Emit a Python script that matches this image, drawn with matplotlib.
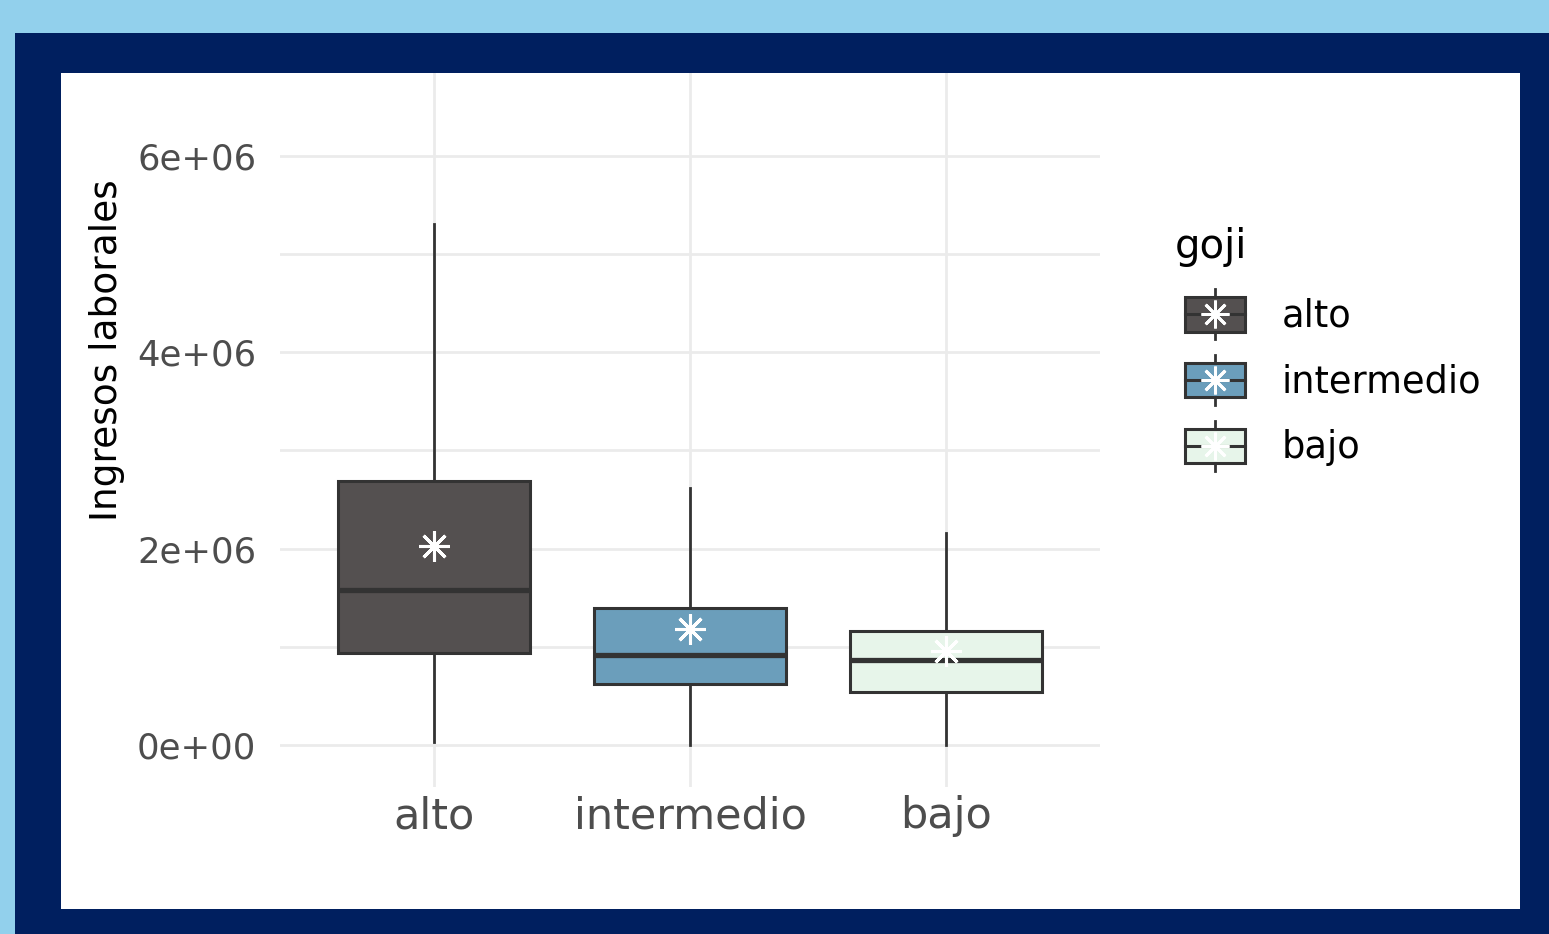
import matplotlib
matplotlib.use("Agg")
import matplotlib.pyplot as plt
from matplotlib.patches import Rectangle
from matplotlib.lines import Line2D
from matplotlib.legend_handler import HandlerBase

# data (ingresos laborales por nivel de goji)
categories = ["alto", "intermedio", "bajo"]
whis_low = [0.03e6, 0.0, 0.0]
q1 = [0.94e6, 0.62e6, 0.54e6]
medians = [1.58e6, 0.92e6, 0.87e6]
q3 = [2.69e6, 1.40e6, 1.16e6]
whis_high = [5.31e6, 2.62e6, 2.16e6]
means = [2.03e6, 1.18e6, 0.96e6]
fill_colors = ["#545050", "#6b9ebb", "#e7f5ea"]

y_ticks = [0, 2e6, 4e6, 6e6]
y_tick_labels = ["0e+00", "2e+06", "4e+06", "6e+06"]

EDGE = "#333333"
MEAN_MARKER = (8, 2, 0)

fig = plt.figure(figsize=(15.49, 9.34), dpi=100, facecolor="#92d0ec")

# navy frame and white card behind the plot
fig.patches.append(Rectangle((15 / 1549, 0), 1, 1 - 33 / 934, transform=fig.transFigure,
                             facecolor="#001f5f", edgecolor="none", zorder=-10))
fig.patches.append(Rectangle((61 / 1549, 1 - 909 / 934), (1520 - 61) / 1549, (909 - 73) / 934,
                             transform=fig.transFigure, facecolor="white", edgecolor="none", zorder=-9))

ax = fig.add_axes([280 / 1549, 1 - 787 / 934, 820 / 1549, (787 - 73) / 934])
ax.patch.set_alpha(0)

stats = []
for i, cat in enumerate(categories):
    stats.append({"label": cat, "whislo": whis_low[i], "q1": q1[i], "med": medians[i],
                  "q3": q3[i], "whishi": whis_high[i], "mean": means[i], "fliers": []})

positions = list(range(1, len(categories) + 1))
bp = ax.bxp(stats, positions=positions, widths=0.75, patch_artist=True, showcaps=False,
            showmeans=True, showfliers=False,
            boxprops=dict(edgecolor=EDGE, linewidth=2.2),
            whiskerprops=dict(color=EDGE, linewidth=2.0),
            medianprops=dict(color=EDGE, linewidth=3.8),
            meanprops=dict(marker=MEAN_MARKER, markeredgecolor="white", markerfacecolor="white",
                           markersize=22, markeredgewidth=2.2))
for patch, c in zip(bp["boxes"], fill_colors):
    patch.set_facecolor(c)
for w in bp["whiskers"]:
    w.set_zorder(1.5)
for m in bp["means"]:
    m.set_zorder(5)

ax.set_xlim(0.4, 3.6)
ax.set_ylim(-0.428e6, 6.845e6)
ax.set_yticks(y_ticks)
ax.set_yticklabels(y_tick_labels)
ax.set_yticks([1e6, 3e6, 5e6], minor=True)
ax.set_xticks(positions)
ax.set_xticklabels(categories)

ax.grid(True, which="both", axis="y", color="#ebebeb", linewidth=2.0, zorder=0)
ax.grid(True, which="major", axis="x", color="#ebebeb", linewidth=2.0, zorder=0)
ax.set_axisbelow(True)
for s in ax.spines.values():
    s.set_visible(False)
ax.tick_params(axis="both", which="both", length=0)
ax.tick_params(axis="y", labelsize=25.5, labelcolor="#4d4d4d", pad=17)
ax.tick_params(axis="x", labelsize=31, labelcolor="#4d4d4d", pad=6)

ax.set_ylabel("Ingresos laborales", fontsize=27, color="black")
ax.yaxis.set_label_coords(-0.189, 0.612)


# legend keys drawn like little boxplots
class BoxKey:
    def __init__(self, color):
        self.color = color


class BoxKeyHandler(HandlerBase):
    def create_artists(self, legend, orig_handle, xdescent, ydescent, width, height, fontsize, trans):
        x0, y0 = -xdescent, -ydescent
        cx, cy = x0 + width / 2, y0 + height / 2
        bh = height * 0.69
        whisker = Line2D([cx, cx], [y0, y0 + height], color=EDGE, linewidth=2.0, transform=trans)
        box = Rectangle((x0, cy - bh / 2), width, bh, facecolor=orig_handle.color,
                        edgecolor=EDGE, linewidth=2.2, transform=trans)
        med = Line2D([x0, x0 + width], [cy, cy], color=EDGE, linewidth=2.2, transform=trans)
        mean = Line2D([cx], [cy], marker=MEAN_MARKER, markersize=20, markeredgewidth=2.0,
                      markeredgecolor="white", color="white", transform=trans)
        return [whisker, box, med, mean]


handles = [BoxKey(c) for c in fill_colors]
leg = fig.legend(handles, categories, handler_map={BoxKey: BoxKeyHandler()},
                 loc="upper left", bbox_to_anchor=(1185 / 1549, 1 - 289 / 934),
                 frameon=False, fontsize=26.5, handlelength=1.63, handleheight=1.73,
                 labelspacing=0.42, handletextpad=1.0, borderaxespad=0, borderpad=0)
fig.text(1175 / 1549, 1 - 258 / 934, "goji", fontsize=29, color="black", ha="left", va="baseline")

fig.savefig("out.png", dpi=100, facecolor=fig.get_facecolor())
